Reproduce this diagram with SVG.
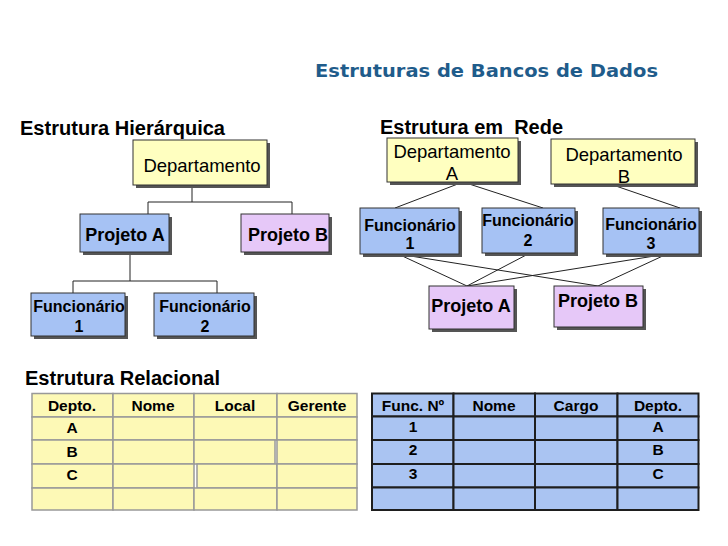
<svg xmlns="http://www.w3.org/2000/svg" width="728" height="546" viewBox="0 0 728 546">
<style>
.t{font-family:"Liberation Sans",Arial,sans-serif;fill:#000}
.h{font-family:"Liberation Sans",Arial,sans-serif;font-weight:bold;font-size:20px}
.sh{fill:#555}
.box{stroke:#333;stroke-width:1}
.y{fill:#ffffc0}
.bl{fill:#a6c2f4}
.v{fill:#e6c8f8}
.c{stroke:#222;stroke-width:1;fill:none}
.cy{fill:#fdf9b6;stroke:#999;stroke-width:1.5}
.cb{fill:#aac4f2;stroke:#1e1e1e;stroke-width:2}
.n{font-size:18.5px;text-anchor:middle}
.p{font-size:18px;font-weight:bold;text-anchor:middle}
.f{font-size:16px;font-weight:bold;text-anchor:middle}
.tt{font-size:15.5px;font-weight:bold;text-anchor:middle}
</style>
<rect width="728" height="546" fill="#fff"/>
<text x="315" y="77" font-family="'DejaVu Sans',Verdana,sans-serif" font-weight="bold" font-size="18.5" fill="#1f5c8b" textLength="343" lengthAdjust="spacingAndGlyphs">Estruturas de Bancos de Dados</text>
<text class="h" x="20" y="135" textLength="205" lengthAdjust="spacingAndGlyphs">Estrutura Hierárquica</text>
<text class="h" x="380" y="134" textLength="183" lengthAdjust="spacingAndGlyphs" xml:space="preserve">Estrutura em  Rede</text>
<text class="h" x="25" y="385" textLength="195" lengthAdjust="spacingAndGlyphs">Estrutura Relacional</text>

<g id="connectors">
<polyline class="c" points="192,185 192,202"/>
<polyline class="c" points="148,214 148,202 292,202 292,214"/>
<polyline class="c" points="130,252 130,281"/>
<polyline class="c" points="73,293 73,281 217,281 217,293"/>
<line class="c" x1="463" y1="182" x2="395" y2="208"/>
<line class="c" x1="463" y1="182" x2="543" y2="208"/>
<line class="c" x1="610" y1="184" x2="680" y2="208"/>
<line class="c" x1="398" y1="254" x2="467" y2="286"/>
<line class="c" x1="398" y1="254" x2="598" y2="286"/>
<line class="c" x1="530" y1="253" x2="467" y2="286"/>
<line class="c" x1="667" y1="254" x2="467" y2="286"/>
<line class="c" x1="667" y1="254" x2="598" y2="286"/>
</g>

<g id="h-departamento">
<rect class="sh" x="136" y="143" width="134" height="45"/>
<rect class="box y" x="133" y="140" width="134" height="45"/>
<text class="t n" x="202" y="172">Departamento</text>
</g>
<g id="h-projeto-a">
<rect class="sh" x="83" y="217" width="89" height="38"/>
<rect class="box bl" x="80" y="214" width="89" height="38"/>
<text class="t p" x="125" y="241">Projeto A</text>
</g>
<g id="h-projeto-b">
<rect class="sh" x="244" y="217" width="88" height="38"/>
<rect class="box v" x="241" y="214" width="88" height="38"/>
<text class="t p" x="288" y="241">Projeto B</text>
</g>
<g id="h-func-1">
<rect class="sh" x="34" y="296" width="94" height="43"/>
<rect class="box bl" x="31" y="293" width="94" height="43"/>
<text class="t f" x="79" y="312">Funcionário</text>
<text class="t f" x="79" y="332">1</text>
</g>
<g id="h-func-2">
<rect class="sh" x="157" y="296" width="100" height="43"/>
<rect class="box bl" x="154" y="293" width="100" height="43"/>
<text class="t f" x="205" y="312">Funcionário</text>
<text class="t f" x="205" y="332">2</text>
</g>

<g id="r-departamento-a">
<rect class="sh" x="390" y="141" width="131" height="44"/>
<rect class="box y" x="387" y="138" width="131" height="44"/>
<text class="t n" x="452" y="158">Departamento</text>
<text class="t n" x="452" y="180">A</text>
</g>
<g id="r-departamento-b">
<rect class="sh" x="554" y="142" width="144" height="45"/>
<rect class="box y" x="551" y="139" width="144" height="45"/>
<text class="t n" x="624" y="161">Departamento</text>
<text class="t n" x="624" y="183">B</text>
</g>
<g id="r-func-1">
<rect class="sh" x="363" y="211" width="99" height="46"/>
<rect class="box bl" x="360" y="208" width="99" height="46"/>
<text class="t f" x="410" y="231">Funcionário</text>
<text class="t f" x="410" y="249">1</text>
</g>
<g id="r-func-2">
<rect class="sh" x="485" y="211" width="93" height="45"/>
<rect class="box bl" x="482" y="208" width="93" height="45"/>
<text class="t f" x="528" y="226">Funcionário</text>
<text class="t f" x="528" y="246">2</text>
</g>
<g id="r-func-3">
<rect class="sh" x="606" y="211" width="96" height="46"/>
<rect class="box bl" x="603" y="208" width="96" height="46"/>
<text class="t f" x="651" y="230">Funcionário</text>
<text class="t f" x="651" y="249">3</text>
</g>
<g id="r-projeto-a">
<rect class="sh" x="432" y="289" width="85" height="43"/>
<rect class="box v" x="429" y="286" width="85" height="43"/>
<text class="t p" x="471" y="312">Projeto A</text>
</g>
<g id="r-projeto-b">
<rect class="sh" x="557" y="289" width="89" height="41"/>
<rect class="box v" x="554" y="286" width="89" height="41"/>
<text class="t p" x="598" y="307">Projeto B</text>
</g>

<g id="tabela-departamento">
<rect class="cy" x="32" y="393.5" width="81" height="23.5"/>
<rect class="cy" x="113" y="393.5" width="81" height="23.5"/>
<rect class="cy" x="194" y="393.5" width="83" height="23.5"/>
<rect class="cy" x="277" y="393.5" width="80" height="23.5"/>
<rect class="cy" x="32" y="417" width="81" height="23"/>
<rect class="cy" x="113" y="417" width="81" height="23"/>
<rect class="cy" x="194" y="417" width="83" height="23"/>
<rect class="cy" x="277" y="417" width="80" height="23"/>
<rect class="cy" x="32" y="440" width="81" height="24"/>
<rect class="cy" x="113" y="440" width="81" height="24"/>
<rect class="cy" x="194" y="440" width="81" height="24"/>
<rect class="cy" x="277" y="440" width="80" height="24"/>
<rect class="cy" x="32" y="464" width="81" height="24"/>
<rect class="cy" x="113" y="464" width="81" height="24"/>
<rect class="cy" x="197" y="464" width="80" height="24"/>
<rect class="cy" x="277" y="464" width="80" height="24"/>
<rect class="cy" x="32" y="488" width="81" height="22"/>
<rect class="cy" x="113" y="488" width="81" height="22"/>
<rect class="cy" x="194" y="488" width="83" height="22"/>
<rect class="cy" x="277" y="488" width="80" height="22"/>
<text class="t tt" x="72" y="411">Depto.</text>
<text class="t tt" x="153" y="411">Nome</text>
<text class="t tt" x="235" y="411">Local</text>
<text class="t tt" x="317" y="411">Gerente</text>
<text class="t tt" x="72" y="433">A</text>
<text class="t tt" x="72" y="457">B</text>
<text class="t tt" x="72" y="480">C</text>
</g>

<g id="tabela-funcionario">
<rect class="cb" x="372" y="393.5" width="81.5" height="23"/>
<rect class="cb" x="453.5" y="393.5" width="81.5" height="23"/>
<rect class="cb" x="535" y="393.5" width="82.5" height="23"/>
<rect class="cb" x="617.5" y="393.5" width="81" height="23"/>
<rect class="cb" x="372" y="416.5" width="81.5" height="23.5"/>
<rect class="cb" x="453.5" y="416.5" width="81.5" height="23.5"/>
<rect class="cb" x="535" y="416.5" width="82.5" height="23.5"/>
<rect class="cb" x="617.5" y="416.5" width="81" height="23.5"/>
<rect class="cb" x="372" y="440" width="81.5" height="24"/>
<rect class="cb" x="453.5" y="440" width="81.5" height="24"/>
<rect class="cb" x="535" y="440" width="82.5" height="24"/>
<rect class="cb" x="617.5" y="440" width="81" height="24"/>
<rect class="cb" x="372" y="464" width="81.5" height="23.5"/>
<rect class="cb" x="453.5" y="464" width="81.5" height="23.5"/>
<rect class="cb" x="535" y="464" width="82.5" height="23.5"/>
<rect class="cb" x="617.5" y="464" width="81" height="23.5"/>
<rect class="cb" x="372" y="487.5" width="81.5" height="22.5"/>
<rect class="cb" x="453.5" y="487.5" width="81.5" height="22.5"/>
<rect class="cb" x="535" y="487.5" width="82.5" height="22.5"/>
<rect class="cb" x="617.5" y="487.5" width="81" height="22.5"/>
<text class="t tt" x="413" y="411">Func. Nº</text>
<text class="t tt" x="494" y="411">Nome</text>
<text class="t tt" x="576" y="411">Cargo</text>
<text class="t tt" x="658" y="411">Depto.</text>
<text class="t tt" x="413" y="432">1</text>
<text class="t tt" x="413" y="455">2</text>
<text class="t tt" x="413" y="479">3</text>
<text class="t tt" x="658" y="432">A</text>
<text class="t tt" x="658" y="455">B</text>
<text class="t tt" x="658" y="479">C</text>
</g>
</svg>
